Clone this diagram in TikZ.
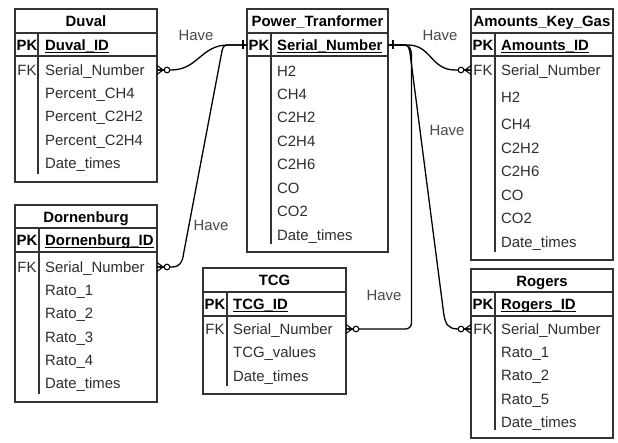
\documentclass[tikz,border=0pt]{standalone}
\usepackage{fontspec}
\setmainfont{Liberation Sans}
\definecolor{boxgray}{HTML}{333333}
\definecolor{fieldgray}{HTML}{2E2E2E}
\definecolor{labelgray}{HTML}{484848}
\newcommand\fs{\fontsize{14.9}{17}\selectfont}
% underline that sits just below the baseline, ignoring the underscores' depth
\newcommand\keyline[1]{\setbox0\hbox{#1}\rlap{\rule[-2.6pt]{\wd0}{1.2pt}}\box0}
\begin{document}
\begin{tikzpicture}[x=1pt,y=-1pt,
  tbl/.style={draw=boxgray,line width=1.4pt,fill=white,inner sep=0,outer sep=0},
  sep/.style={draw=boxgray,line width=1.2pt},
  ttl/.style={font=\bfseries\fs,text=black,inner sep=0,text height=10.5pt,text depth=0pt},
  key/.style={font=\bfseries\fs,text=black,inner sep=0,text height=10.5pt,text depth=0pt},
  fkey/.style={font=\fs,text=fieldgray,inner sep=0,text height=10.5pt,text depth=0pt},
  fld/.style={anchor=west,font=\fs,text=fieldgray,inner sep=0,text height=10.5pt,text depth=0pt},
  pkf/.style={anchor=west,font=\bfseries\fs,text=black,inner sep=0,text height=10.5pt,text depth=0pt},
  rel/.style={font=\fs,text=labelgray,inner sep=0,text height=10.5pt,text depth=0pt},
  link/.style={draw=black,line width=1.3pt},
  zeromany/.pic={
    \draw[line width=1.1pt] (0,-4.5) -- (6,0) -- (0,4.5) (0,0) -- (7,0);
    \draw[line width=1.1pt,fill=white] (10,0) circle (2.8);},
  onebar/.pic={\draw[line width=1.1pt] (0,-4.5) -- (0,4.5);}
]
\useasboundingbox[fill=white] (0,0) rectangle (618,443);

% ---------------- Duval ----------------
\node[tbl,minimum width=142pt,minimum height=173pt] (duval) at (86,95.5) {};
\draw[sep] (15,33) -- (157,33) (15,56) -- (157,56) (38,33) -- (38,174);
\node[ttl] (duvalT) at (86,21) {Duval};
\node[key] (duvalPK) at (27,45) {PK};
\node[pkf] (duvalID) at (45,45) {\keyline{Duval\_ID}};
\node[fkey] (duvalFK) at (27,70) {FK};
\node[fld] (duvalSN) at (45,70) {Serial\_Number};
\node[fld] (duvalA) at (45,93) {Percent\_CH4};
\node[fld] (duvalB) at (45,116.5) {Percent\_C2H2};
\node[fld] (duvalC) at (45,140) {Percent\_C2H4};
\node[fld] (duvalD) at (45,163) {Date\_times};

% ---------------- Power_Tranformer ----------------
\node[tbl,minimum width=141pt,minimum height=243pt] (pt) at (317.5,130.5) {};
\draw[sep] (247,33) -- (388,33) (247,56) -- (388,56) (271,33) -- (271,244);
\node[ttl] (ptT) at (317.5,21) {Power\_Tranformer};
\node[key] (ptPK) at (259,45) {PK};
\node[pkf] (ptID) at (277,45) {\keyline{Serial\_Number}};
\node[fld] (ptA) at (277,71) {H2};
\node[fld] (ptB) at (277,94) {CH4};
\node[fld] (ptC) at (277,117.5) {C2H2};
\node[fld] (ptD) at (277,141) {C2H4};
\node[fld] (ptE) at (277,164.5) {C2H6};
\node[fld] (ptF) at (277,188) {CO};
\node[fld] (ptG) at (277,211.5) {CO2};
\node[fld] (ptH) at (277,235) {Date\_times};

% ---------------- Amounts_Key_Gas ----------------
\node[tbl,minimum width=142pt,minimum height=251pt] (akg) at (542,134.5) {};
\draw[sep] (471,33) -- (613,33) (471,56) -- (613,56) (495,33) -- (495,252);
\node[ttl] (akgT) at (542,21) {Amounts\_Key\_Gas};
\node[key] (akgPK) at (483,45) {PK};
\node[pkf] (akgID) at (501,45) {\keyline{Amounts\_ID}};
\node[fkey] (akgFK) at (483,70) {FK};
\node[fld] (akgSN) at (501,70) {Serial\_Number};
\node[fld] (akgA) at (501,97.5) {H2};
\node[fld] (akgB) at (501,124.5) {CH4};
\node[fld] (akgC) at (501,148) {C2H2};
\node[fld] (akgD) at (501,171.5) {C2H6};
\node[fld] (akgE) at (501,195) {CO};
\node[fld] (akgF) at (501,218.5) {CO2};
\node[fld] (akgG) at (501,242) {Date\_times};

% ---------------- Dornenburg ----------------
\node[tbl,minimum width=142pt,minimum height=197pt] (dorn) at (86,303.5) {};
\draw[sep] (15,228) -- (157,228) (15,252) -- (157,252) (39,228) -- (39,394);
\node[ttl] (dornT) at (86,217) {Dornenburg};
\node[key] (dornPK) at (27,240) {PK};
\node[pkf] (dornID) at (45,240) {\keyline{Dornenburg\_ID}};
\node[fkey] (dornFK) at (27,267) {FK};
\node[fld] (dornSN) at (45,267) {Serial\_Number};
\node[fld] (dornA) at (45,290) {Rato\_1};
\node[fld] (dornB) at (45,313.5) {Rato\_2};
\node[fld] (dornC) at (45,337) {Rato\_3};
\node[fld] (dornD) at (45,360) {Rato\_4};
\node[fld] (dornE) at (45,383.5) {Date\_times};

% ---------------- TCG ----------------
\node[tbl,minimum width=143pt,minimum height=126pt] (tcg) at (274.5,331) {};
\draw[sep] (203,292) -- (346,292) (203,316) -- (346,316) (227,292) -- (227,386);
\node[ttl] (tcgT) at (274.5,280) {TCG};
\node[key] (tcgPK) at (215,304) {PK};
\node[pkf] (tcgID) at (233,304) {\keyline{TCG\_ID}};
\node[fkey] (tcgFK) at (215,329) {FK};
\node[fld] (tcgSN) at (233,329) {Serial\_Number};
\node[fld] (tcgA) at (233,352.5) {TCG\_values};
\node[fld] (tcgB) at (233,376) {Date\_times};

% ---------------- Rogers ----------------
\node[tbl,minimum width=142pt,minimum height=169pt] (rog) at (542,353.5) {};
\draw[sep] (471,292) -- (613,292) (471,316) -- (613,316) (495,292) -- (495,430);
\node[ttl] (rogT) at (542,281) {Rogers};
\node[key] (rogPK) at (483,304) {PK};
\node[pkf] (rogID) at (501,304) {\keyline{Rogers\_ID}};
\node[fkey] (rogFK) at (483,329) {FK};
\node[fld] (rogSN) at (501,329) {Serial\_Number};
\node[fld] (rogA) at (501,352) {Rato\_1};
\node[fld] (rogB) at (501,375.5) {Rato\_2};
\node[fld] (rogC) at (501,399) {Rato\_5};
\node[fld] (rogD) at (501,422) {Date\_times};

% ---------------- attachment points ----------------
\coordinate (ptL) at (pt.west |- ptPK);
\coordinate (ptR) at (pt.east |- ptPK);
\coordinate (duvalE) at (duval.east |- duvalSN);
\coordinate (dornE) at (dorn.east |- dornSN);
\coordinate (tcgE) at (tcg.east |- tcgSN);
\coordinate (akgW) at (akg.west |- akgSN);
\coordinate (rogW) at (rog.west |- rogSN);

% ---------------- relationships ----------------
\draw[link] (duvalE) -- ++(14,0) .. controls (198,70) and (201,45) .. (228,45) -- (ptL);
\draw[link] (dornE) -- ++(15,0) .. controls (180,267) and (182.5,262) .. (183.5,254)
  -- (222,51) .. controls (223,46.5) and (224.5,45) .. (228,45) -- (ptL);
\draw[link] (ptR) -- (408,45) .. controls (431,45) and (431,70) .. (455,70) -- (akgW);
\draw[link] (ptR) -- (404,45) .. controls (409,45) and (411.5,48) .. (411.5,57)
  [rounded corners=6pt] -- (411.5,329) -- (tcgE);
\draw[link] (ptR) -- (404,45) .. controls (408,45) and (409,47) .. (410,53)
  -- (443.5,312) .. controls (445,324) and (448,329) .. (458,329) -- (rogW);

% cardinality marks
\pic at (duvalE) {zeromany};
\pic at (dornE) {zeromany};
\pic at (tcgE) {zeromany};
\pic[xscale=-1] at (akgW) {zeromany};
\pic[xscale=-1] at (rogW) {zeromany};
\pic at ([xshift=-4pt]ptL) {onebar};
\pic at ([xshift=5pt]ptR) {onebar};

% relationship labels
\node[rel] (haveA) at (196,35) {Have};
\node[rel] (haveB) at (440,35) {Have};
\node[rel] (haveC) at (447,130) {Have};
\node[rel] (haveD) at (211,225) {Have};
\node[rel] (haveE) at (384,295) {Have};
\end{tikzpicture}
\end{document}
